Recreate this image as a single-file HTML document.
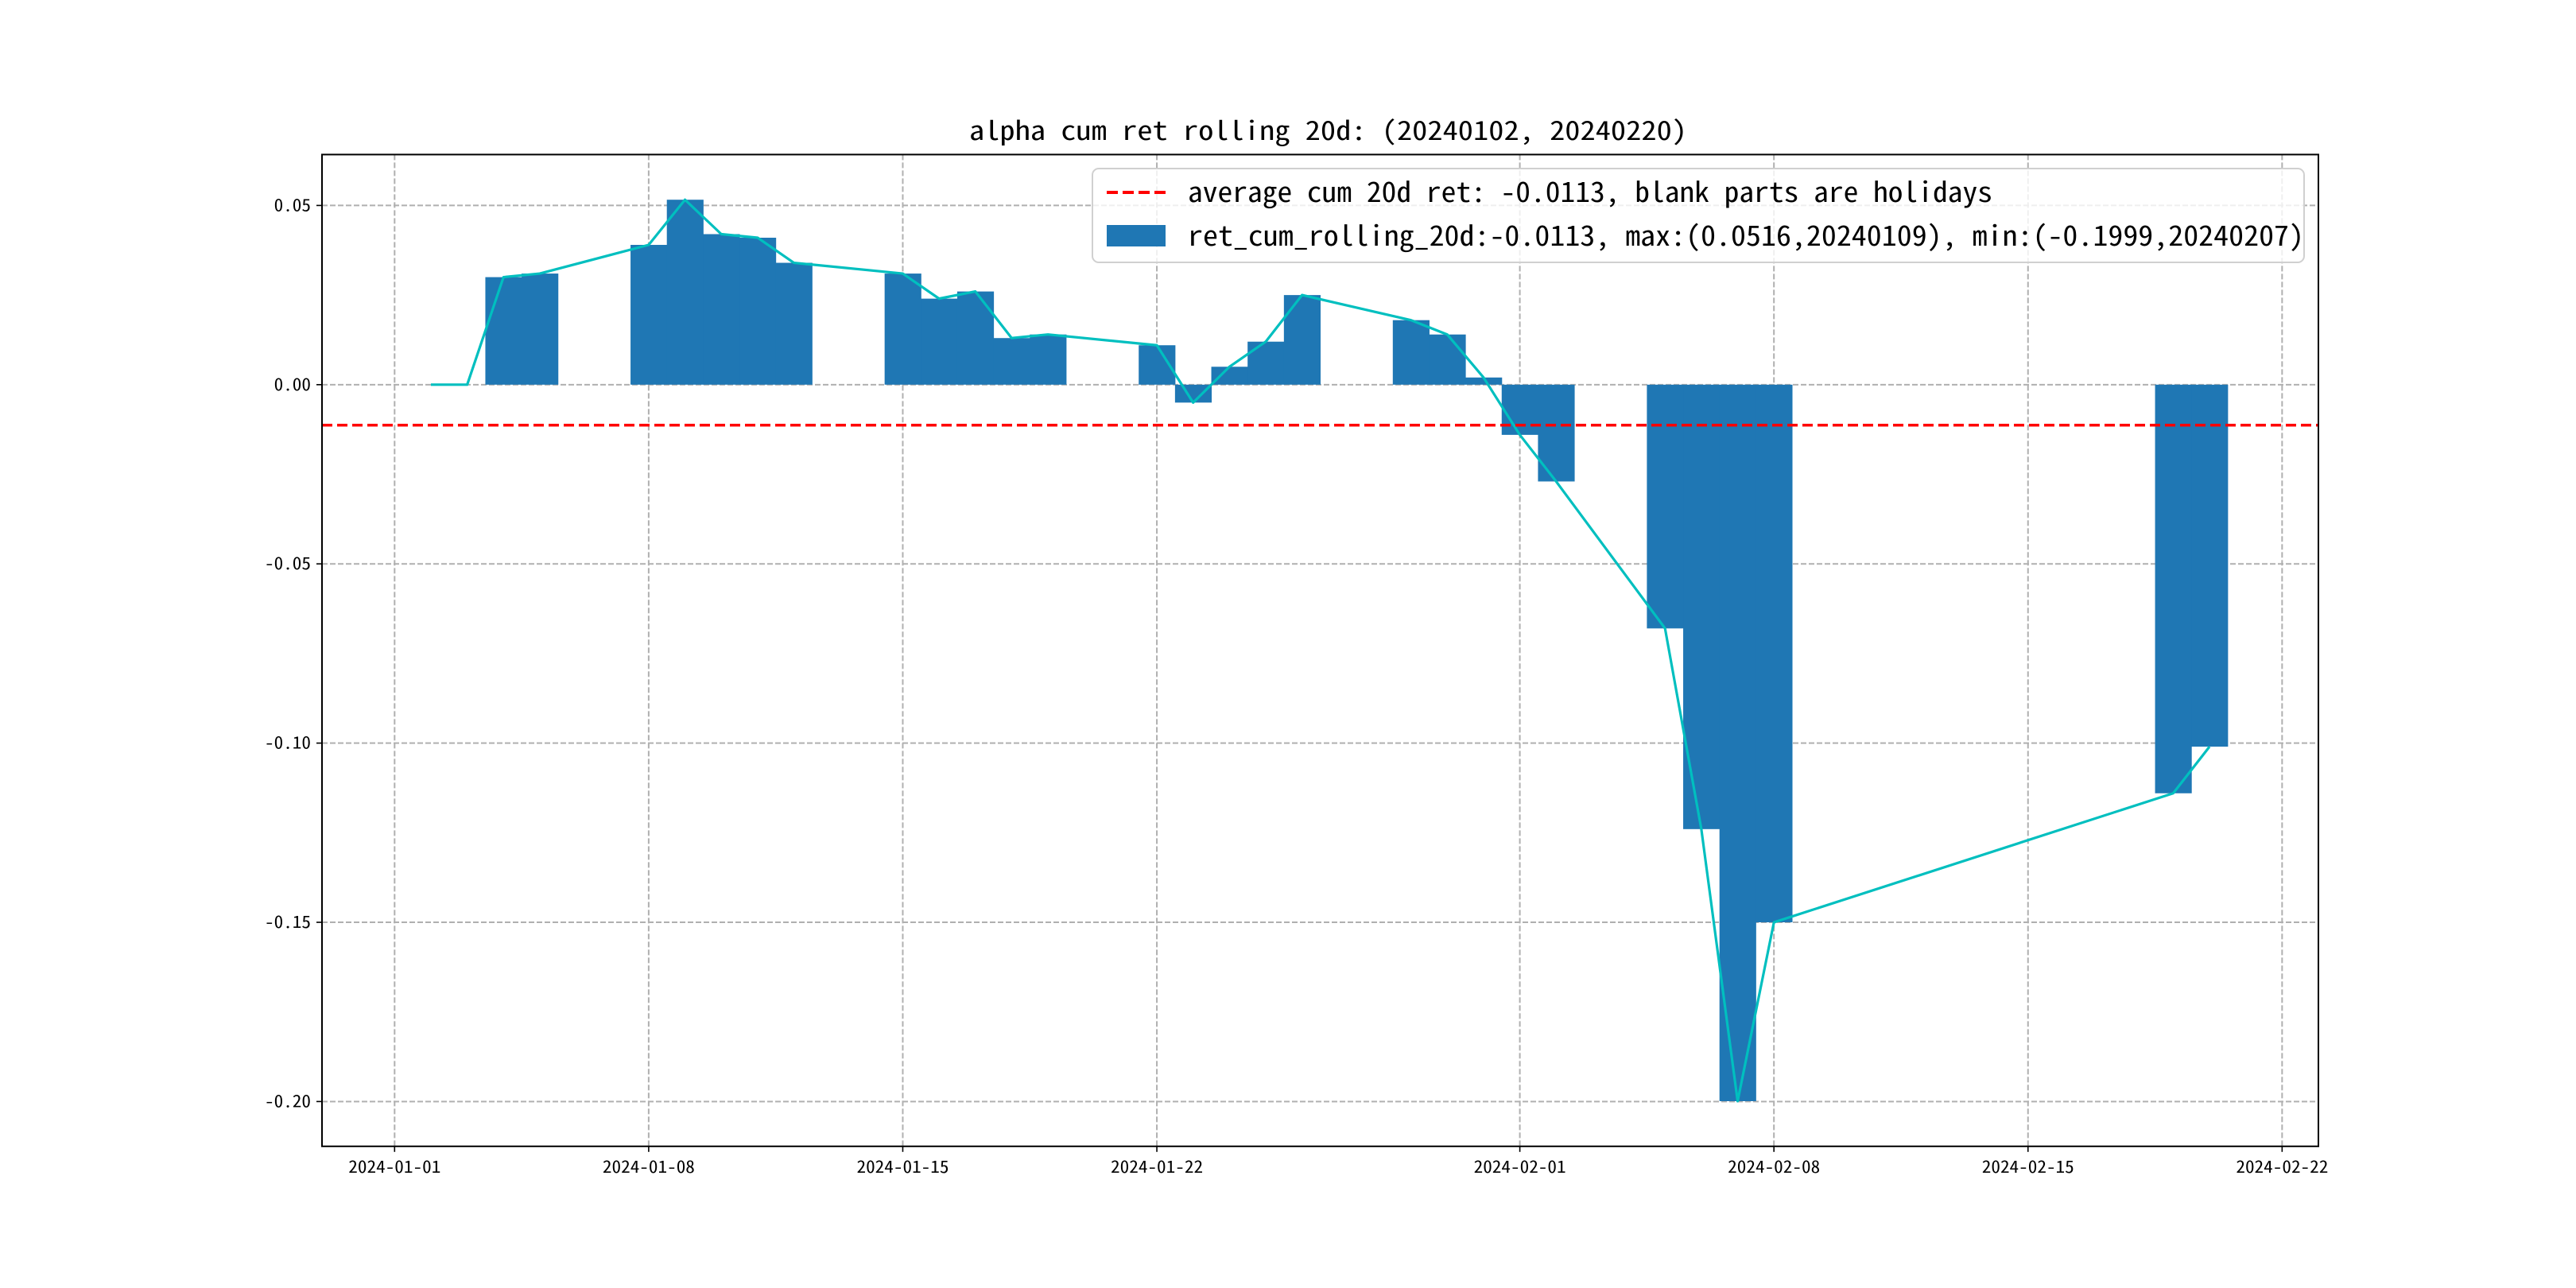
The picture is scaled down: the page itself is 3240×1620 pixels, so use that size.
<!DOCTYPE html>
<html><head><meta charset="utf-8"><style>
html,body{margin:0;padding:0;background:#fff;}
svg{display:block;font-family:"Noto Sans Mono CJK SC","WenQuanYi Zen Hei Mono","WenQuanYi Zen Hei","Liberation Mono",monospace;}
</style></head><body>
<svg id="chart" width="3240" height="1620" viewBox="0 0 3240 1620" xmlns="http://www.w3.org/2000/svg">
<rect width="3240" height="1620" fill="#fff"/>
<g id="grid"></g>
<g id="bars"></g>
<g id="lines"></g>
<g id="axes"></g>
<text x="1219" y="176" font-size="33" textLength="903" lengthAdjust="spacingAndGlyphs">alpha cum ret rolling 20d: (20240102, 20240220)</text>
<g>
<rect x="1374" y="212" width="1524" height="118" rx="8" fill="#fff" fill-opacity="0.8" stroke="#d0d0d0" stroke-width="2"/>
<line x1="1392" y1="242" x2="1466" y2="242" stroke="#ff0000" stroke-width="4" stroke-dasharray="14,6"/>
<text x="1494" y="254" font-size="35" textLength="1012" lengthAdjust="spacingAndGlyphs">average cum 20d ret: -0.0113, blank parts are holidays</text>
<rect x="1392" y="283" width="74" height="27" fill="#1f77b4"/>
<text x="1494" y="309" font-size="35" textLength="1404" lengthAdjust="spacingAndGlyphs">ret_cum_rolling_20d:-0.0113, max:(0.0516,20240109), min:(-0.1999,20240207)</text>
</g>
</svg>
<script>
const dates = ["2024-01-02","2024-01-03","2024-01-04","2024-01-05","2024-01-08","2024-01-09","2024-01-10","2024-01-11","2024-01-12","2024-01-15","2024-01-16","2024-01-17","2024-01-18","2024-01-19","2024-01-22","2024-01-23","2024-01-24","2024-01-25","2024-01-26","2024-01-29","2024-01-30","2024-01-31","2024-02-01","2024-02-02","2024-02-05","2024-02-06","2024-02-07","2024-02-08","2024-02-19","2024-02-20"];
const values = [0,0,0.030,0.031,0.039,0.0516,0.042,0.041,0.034,0.031,0.024,0.026,0.013,0.014,0.011,-0.005,0.005,0.012,0.025,0.018,0.014,0.002,-0.014,-0.027,-0.068,-0.124,-0.1999,-0.150,-0.114,-0.101];
const averageValue = -0.0113;
const xTickLabels = ["2024-01-01","2024-01-08","2024-01-15","2024-01-22","2024-02-01","2024-02-08","2024-02-15","2024-02-22"];
const yTickValues = [0.05,0,-0.05,-0.10,-0.15,-0.20];
const yTickLabels = ["0.05","0.00","-0.05","-0.10","-0.15","-0.20"];

const L=405,R=2916,T=194.4,B=1441.8;
const NS="http://www.w3.org/2000/svg";
const t0=Date.UTC(2024,0,1);
function day(s){const p=s.split("-");return (Date.UTC(+p[0],+p[1]-1,+p[2])-t0)/86400000;}
const dmin=-2,dmax=53,ymin=-0.2125,ymax=0.0642;
function X(d){return L+(d-dmin)/(dmax-dmin)*(R-L);}
function Y(v){return T+(ymax-v)/(ymax-ymin)*(B-T);}
function mk(tag,attrs,parent){const e=document.createElementNS(NS,tag);for(const k in attrs)e.setAttribute(k,attrs[k]);document.getElementById(parent).appendChild(e);return e;}

xTickLabels.forEach(s=>{const x=X(day(s));
 const g=mk("line",{x1:x,x2:x,y1:T,y2:B,stroke:"#b0b0b0","stroke-width":2,"stroke-dasharray":"7,3"},"grid");
 
 
 const tk=mk("line",{x1:x,x2:x,y1:B,y2:B+7,stroke:"#000","stroke-width":1.6},"axes");
 
 
 const t=mk("text",{x:x-58,y:B+33,"font-size":21,textLength:116,lengthAdjust:"spacingAndGlyphs"},"axes");t.textContent=s;
 
 
});
yTickValues.forEach((v,i)=>{const y=Y(v);
 const g=mk("line",{x1:L,x2:R,y1:y,y2:y,stroke:"#b0b0b0","stroke-width":2,"stroke-dasharray":"7,3"},"grid");
 
 
 const tk=mk("line",{x1:L-7,x2:L,y1:y,y2:y,stroke:"#000","stroke-width":1.6},"axes");
 
 
 const lab=yTickLabels[i];const w=lab.length*11.6;
 const t=mk("text",{x:L-14-w,y:y+7,"font-size":21,textLength:w,lengthAdjust:"spacingAndGlyphs"},"axes");t.textContent=lab;
 
 
});
dates.forEach((s,i)=>{const d=day(s),v=values[i];
 const x0=X(d-0.5),x1=X(d+0.5),y0=Y(Math.max(v,0)),y1=Y(Math.min(v,0));
 const b=mk("rect",{x:x0,y:y0,width:x1-x0+0.5,height:Math.max(y1-y0,0),fill:"#1f77b4"},"bars");
 
 
});
const pts=dates.map((s,i)=>X(day(s))+","+Y(values[i])).join(" ");
const pl=mk("polyline",{points:pts,fill:"none",stroke:"#00bfbf","stroke-width":3.2,"stroke-linejoin":"round"},"lines");


const av=mk("line",{x1:L,x2:R,y1:Y(averageValue),y2:Y(averageValue),stroke:"#ff0000","stroke-width":3.5,"stroke-dasharray":"13,6"},"lines");


const fr=mk("rect",{x:L,y:T,width:R-L,height:B-T,fill:"none",stroke:"#000","stroke-width":2},"axes");


</script>
</body></html>
